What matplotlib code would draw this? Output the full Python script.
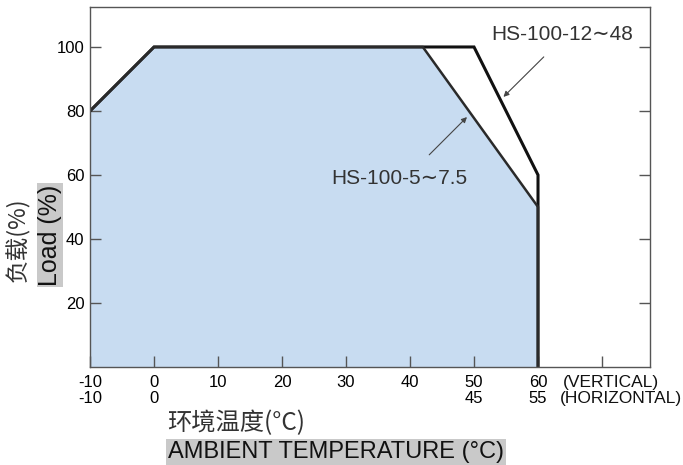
import matplotlib

matplotlib.use("Agg")
import matplotlib.pyplot as plt
from matplotlib import font_manager

# derating curves (ambient temperature in degC, vertical mounting -> load %)
temp_12_48 = [-10, 0, 50, 60, 60]
load_12_48 = [80, 100, 100, 60, 0]
temp_5_75 = [-10, 0, 42, 60, 60]
load_5_75 = [80, 100, 100, 50, 0]

x_ticks = [-10, 0, 10, 20, 30, 40, 50, 60, 70]
x_vertical = ["-10", "0", "10", "20", "30", "40", "50", "60", ""]
x_horizontal = ["-10", "0", "", "", "", "", "45", "55", ""]
y_ticks = [20, 40, 60, 80, 100]

# use a narrow face for numbers if there is one, else plain Arial metrics
try:
    font_manager.findfont("Liberation Sans Narrow", fallback_to_default=False)
    narrow, num_size, hs_size = ["Liberation Sans Narrow", "DejaVu Sans"], 13, 17
except ValueError:
    narrow, num_size, hs_size = ["Liberation Sans", "DejaVu Sans"], 12, 15
arial = ["Liberation Sans", "DejaVu Sans"]
cjk = ["Noto Sans CJK SC", "DejaVu Sans"]

fig = plt.figure(figsize=(6.83, 4.65), dpi=100)
ax = fig.add_axes([0.1318, 0.2108, 0.8199, 0.7742])

ax.fill_between(temp_5_75, load_5_75, 0, color="#c8dcf1", lw=0)
ax.plot(temp_12_48, load_12_48, color="#111111", lw=2.2, solid_joinstyle="miter")
ax.plot(temp_5_75, load_5_75, color="#2a2a2a", lw=1.8, solid_joinstyle="miter")

ax.set_xlim(-10, 77.5)
ax.set_ylim(0, 112.5)

ax.set_xticks(x_ticks)
ax.set_xticklabels([f"{a}\n{b}" for a, b in zip(x_vertical, x_horizontal)],
                   family=narrow, fontsize=num_size, linespacing=1.05)
ax.set_yticks(y_ticks)
ax.set_yticklabels([str(v) for v in y_ticks], family=narrow, fontsize=num_size)
ax.tick_params(axis="both", direction="in", length=8, width=1, color="#555555", pad=4)
ax.tick_params(axis="x", pad=6)
ax.tick_params(axis="y", right=True)
for sp in ax.spines.values():
    sp.set_color("#555555")
    sp.set_linewidth(1.0)

fig.text(563 / 683, 1 - 382 / 465, "(VERTICAL)", ha="left", va="center",
         fontsize=12.5, family=arial, color="#111111")
fig.text(560 / 683, 1 - 399 / 465, "(HORIZONTAL)", ha="left", va="center",
         fontsize=12.5, family=arial, color="#111111")

# model labels with leader arrows
ax.text(63.8, 103.8, "HS-100-12∼48", fontsize=hs_size, family=narrow,
        color="#333333", ha="center", va="center")
ax.annotate("", xy=(54.6, 84.4), xytext=(60.9, 96.9),
            arrowprops=dict(arrowstyle="-|>", color="#444444", lw=0.8,
                            mutation_scale=8, shrinkA=0, shrinkB=0))
ax.text(38.4, 59, "HS-100-5∼7.5", fontsize=hs_size, family=narrow,
        color="#333333", ha="center", va="center")
ax.annotate("", xy=(48.9, 78.1), xytext=(43.0, 66.3),
            arrowprops=dict(arrowstyle="-|>", color="#444444", lw=0.8,
                            mutation_scale=8, shrinkA=0, shrinkB=0))

fig.text(18 / 683, 1 - 240 / 465, "负载(%)", rotation=90, ha="center", va="center",
         fontsize=17, family=cjk, color="#333333")
fig.text(50 / 683, 1 - 235 / 465, "Load (%)", rotation=90, ha="center", va="center",
         fontsize=18, family=arial, color="#111111",
         bbox=dict(boxstyle="square,pad=0.05", fc="#c9c9c9", ec="none"))
fig.text(167 / 683, 1 - 423 / 465, "环境温度(°C)", ha="left", va="center",
         fontsize=17.5, family=cjk, color="#333333")
fig.text(168 / 683, 1 - 452 / 465, "AMBIENT TEMPERATURE (°C)", ha="left", va="center",
         fontsize=17, family=arial, color="#111111",
         bbox=dict(boxstyle="square,pad=0.08", fc="#c9c9c9", ec="none"))

fig.savefig("out.png", dpi=100)
